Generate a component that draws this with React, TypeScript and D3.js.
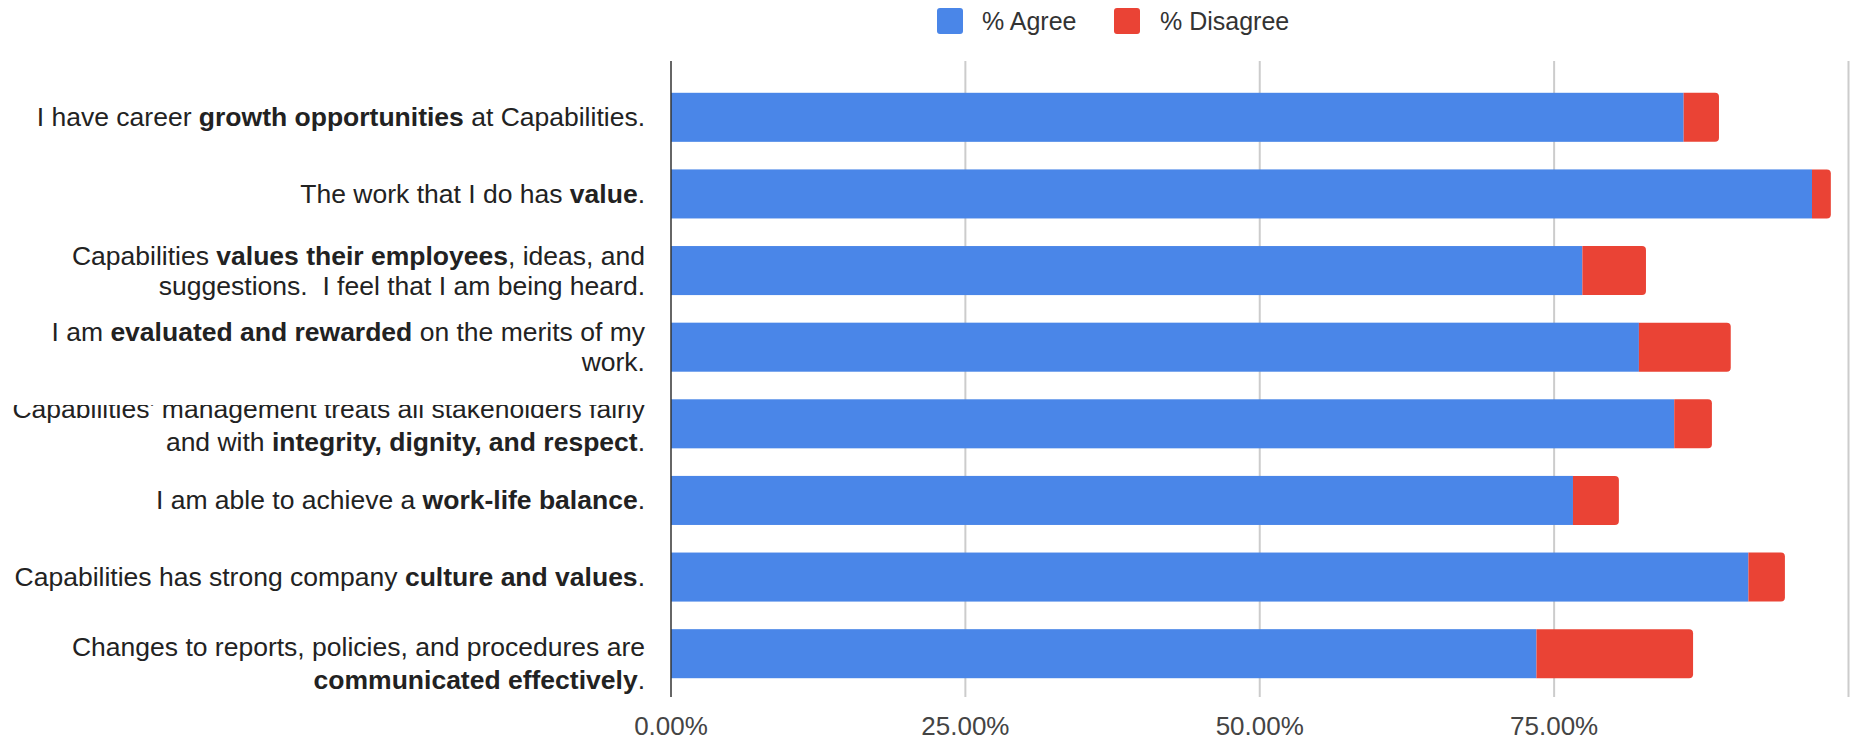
import React, { useEffect } from 'react';
import * as d3 from 'd3';

// Statements, ** marks bold runs, \n breaks a line
const statements = [
  'I have career **growth opportunities** at Capabilities.',
  'The work that I do has **value**.',
  'Capabilities **values their employees**, ideas, and\nsuggestions.  I feel that I am being heard.',
  'I am **evaluated and rewarded** on the merits of my\nwork.',
  "Capabilities' management treats all stakeholders fairly\nand with **integrity, dignity, and respect**.",
  'I am able to achieve a **work-life balance**.',
  'Capabilities has strong company **culture and values**.',
  'Changes to reports, policies, and procedures are\n**communicated effectively**.',
];

const agree = [86.0, 96.9, 77.4, 82.2, 85.2, 76.6, 91.5, 73.5];
const disagree = [3.0, 1.6, 5.4, 7.8, 3.2, 3.9, 3.1, 13.3];

const xTicks = [0, 25, 50, 75, 100];
const seriesNames = ['% Agree', '% Disagree'];
const seriesColors = ['#4a86e8', '#ea4335'];

const W = 1854;
const H = 743;
const FONT = '"Liberation Sans", Arial, sans-serif';

const parseLine = (line: string) =>
  line.split('**').map((text, i) => ({ text, bold: i % 2 === 1 })).filter(s => s.text.length);

// right-rounded bar end
const roundedRight = (x0: number, x1: number, y: number, h: number, r: number) => {
  const rr = Math.min(r, (x1 - x0) / 2, h / 2);
  return `M${x0},${y}H${x1 - rr}Q${x1},${y} ${x1},${y + rr}V${y + h - rr}Q${x1},${y + h} ${x1 - rr},${y + h}H${x0}Z`;
};

export default function App() {
  useEffect(() => {
    document.body.style.margin = '0';
  }, []);

  const x = d3.scaleLinear().domain([0, 100]).range([671, 1848.5]);
  const y = d3.scaleBand<number>()
    .domain(d3.range(statements.length))
    .range([79, 692])
    .paddingInner(0.36)
    .paddingOuter(0.18);

  const lineH = 30;
  // small vertical tweaks the original renderer applied to a couple of labels
  const nudge: Record<number, number[]> = { 4: [0, 3], 7: [8, 11] };

  return (
    <svg width={W} height={H} style={{ display: 'block', background: '#fff' }} fontFamily={FONT}>
      <defs>
        {/* the 5th label gets its top line cut off in the original */}
        <clipPath id="clip-label-4">
          <rect x={0} y={405} width={670} height={200} />
        </clipPath>
      </defs>

      {/* legend */}
      <g>
        <rect x={937} y={8} width={26} height={26} rx={3} fill={seriesColors[0]} />
        <text x={982} y={30} fontSize={25} fill="#333">{seriesNames[0]}</text>
        <rect x={1114} y={8} width={26} height={26} rx={3} fill={seriesColors[1]} />
        <text x={1160} y={30} fontSize={25} fill="#333">{seriesNames[1]}</text>
      </g>

      {/* gridlines */}
      {xTicks.slice(1).map(t => (
        <line key={t} x1={x(t)} x2={x(t)} y1={61} y2={697} stroke="#ccc" strokeWidth={2} />
      ))}

      {/* bars */}
      {statements.map((_, i) => {
        const y0 = y(i)!;
        const h = y.bandwidth();
        return (
          <g key={i}>
            <rect x={x(0)} y={y0} width={x(agree[i]) - x(0)} height={h} fill={seriesColors[0]} />
            <path d={roundedRight(x(agree[i]), x(agree[i] + disagree[i]), y0, h, 4)} fill={seriesColors[1]} />
          </g>
        );
      })}

      {/* baseline axis */}
      <line x1={x(0)} x2={x(0)} y1={61} y2={697} stroke="#333" strokeWidth={1.5} />

      {/* tick labels */}
      {xTicks.slice(0, 4).map(t => (
        <text key={t} x={x(t)} y={735} textAnchor="middle" fontSize={26} fill="#444">
          {d3.format('.2f')(t) + '%'}
        </text>
      ))}

      {/* category labels */}
      {statements.map((s, i) => {
        const lines = s.split('\n');
        const cy = y(i)! + y.bandwidth() / 2;
        const first = cy - ((lines.length - 1) * lineH) / 2;
        return (
          <g key={i} clipPath={i === 4 ? 'url(#clip-label-4)' : undefined}>
            {lines.map((ln, j) => (
              <text key={j} x={645} y={first + j * lineH + 9 + (nudge[i]?.[j] ?? 0)}
                textAnchor="end" fontSize={26.5} fill="#222" style={{ whiteSpace: 'pre' }}>
                {parseLine(ln).map((seg, k) => (
                  <tspan key={k} fontWeight={seg.bold ? 'bold' : 'normal'}>{seg.text}</tspan>
                ))}
              </text>
            ))}
          </g>
        );
      })}
    </svg>
  );
}
